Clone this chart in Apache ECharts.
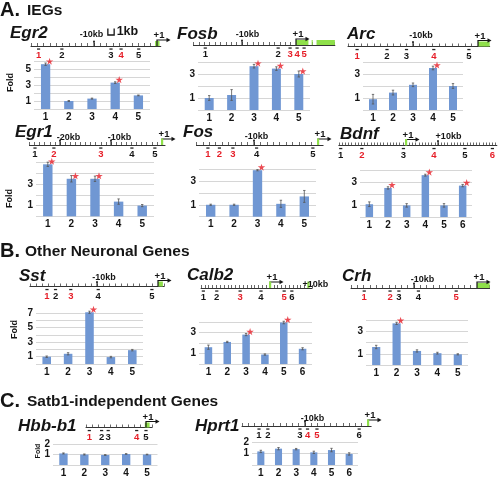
<!DOCTYPE html>
<html><head><meta charset="utf-8">
<script src="https://cdn.jsdelivr.net/npm/echarts@6/dist/echarts.min.js"></script>
<style>html,body{margin:0;padding:0;background:#fff}#c{width:500px;height:478px}</style>
</head><body><div id="c"></div>
<script>
// ---------------- DATA ----------------
const geneNames = ['Egr2','Fosb','Arc','Egr1','Fos','Bdnf','Sst','Calb2','Crh','Hbb-b1','Hprt1'];
const sectionLetters = ['A.','B.','C.'];
const sectionTitles = ['IEGs','Other Neuronal Genes','Satb1-independent Genes'];
const foldAxisName = 'Fold';
const foldValues = [
  [5.6,1.0,1.3,3.3,1.7],
  [1.0,1.25,3.65,3.45,3.0],
  [0.9,1.45,2.1,3.5,2.0],
  [4.85,3.5,3.5,1.37,1.0],
  [1.0,1.0,3.9,1.08,1.7],
  [1.1,2.5,1.0,3.6,1.0,2.7],
  [1.0,1.4,7.1,0.95,1.9],
  [1.6,2.1,2.8,0.9,3.95,1.45],
  [1.6,3.7,1.25,1.05,0.95],
  [1.1,1.0,0.95,1.05,1.0],
  [1.18,1.42,1.38,1.1,1.3,0.96]
];
const foldErrors = [
  [0.15,0.06,0.06,0.1,0.05],
  [0.2,0.45,0.15,0.15,0.25],
  [0.4,0.2,0.15,0.15,0.2],
  [0.2,0.3,0.25,0.25,0.1],
  [0.05,0.05,0.05,0.3,0.5],
  [0.2,0.1,0.15,0.08,0.15,0.1],
  [0.1,0.15,0.15,0.1,0.1],
  [0.2,0.06,0.1,0.06,0.12,0.1],
  [0.15,0.1,0.1,0.08,0.05],
  [0.05,0.05,0.04,0.03,0.03],
  [0.1,0.1,0.06,0.1,0.15,0.1]
];
const significant = [
  [1,0,0,1,0],[0,0,1,1,1],[0,0,0,1,0],[1,1,1,0,0],[0,0,1,0,0],[0,1,0,1,0,1],
  [0,0,1,0,0],[0,0,1,0,1,0],[0,1,0,0,0],[0,0,0,0,0],[0,0,0,0,0,0]
];
// primer positions relative to TSS (kb)
const primerKb = [
  [-18.8,-15.1,-7.3,-5.7,-2.9],
  [-16.8,-3.3,-1.1,0.2,1.5],
  [-18.6,-14.0,-11.0,-6.8,-1.4],
  [-24.9,-21.2,-12.0,-5.9,-1.4],
  [-17.2,-15.4,-13.3,-9.6,-0.8],
  [-20.4,-13.8,-0.8,8.75,18.4,27.0],
  [-18.2,-16.8,-14.3,-9.8,-1.0],
  [-17.4,-13.9,-7.8,-2.35,3.7,5.7],
  [-17.9,-13.8,-12.4,-9.3,-3.3],
  [-9.45,-7.4,-6.3,-1.55,0.0],
  [-17.3,-15.9,-10.8,-9.6,-8.1,-1.4]
];
const primerRed = [
  [1,0,0,1,0],[0,0,1,1,1],[1,0,0,1,0],[0,1,1,0,0],[1,1,1,0,0],[0,1,0,1,0,1],
  [1,0,1,0,0],[0,0,1,0,1,0],[1,1,0,0,1],[1,0,0,1,0],[0,0,0,1,1,0]
];
// exons (kb start, kb end); equal values = thin mark
const exonKb = [
  [[-0.3,0.4]],
  [[0,2.3],[2.9,3.1],[3.8,7.2]],
  [[0,1.8]],
  [[0,0]],
  [[0,0]],
  [[0,0]],
  [[0,0.8]],
  [[0,0],[10,10]],
  [[0,2]],
  [[-0.2,0.6]],
  [[0,0]]
];
const landmarkKb = [
  [[-10,'-10kb']],[[-10,'-10kb']],[[-10,'-10kb']],[[-20,'-20kb'],[-10,'-10kb']],
  [[-10,'-10kb']],[[10,'+10kb']],[[-10,'-10kb']],[[10,'+10kb']],[[-10,'-10kb']],[],[[-10,'-10kb']]
];
const tssKb = 0;
const tssLabel = '+1';
const scaleBarKb = 1;
const scaleBarLabel = '1kb';

// ---------------- LAYOUT / STYLE ----------------
const FONT = '"Liberation Sans", Arial, sans-serif';
const INK = '#151515', RED = '#e61e28', BLUE = '#7097d3', GREEN = '#8fe04a';
const layout = [
  {bar:[34,61,116,48], ymax:6, yLabels:[1,3,5], track:{tss:157,ppk:6.3,kbMin:-20,kbMax:0.6,lineY:46}, title:[10,33], fold:[11,82.5,9], scaleAt:-7.8, lm:[-2.5,-11.5]},
  {bar:[198,62,112,48], ymax:4, yLabels:[1,3], track:{tss:296,ppk:5.4,kbMin:-19,kbMax:7.2,lineY:45}, title:[177,34], lm:[5.5,-10]},
  {bar:[363,62,100,48], ymax:4, yLabels:[1,3], track:{tss:478,ppk:6.5,kbMin:-20,kbMax:1.8,lineY:46.5}, title:[347,34], lm:[8,-11]},
  {bar:[36,162.7,118,53.6], ymax:5, yLabels:[1,3], track:{tss:162,ppk:5.1,kbMin:-26,kbMax:0.6,lineY:145}, title:[15,132.5], fold:[10,198.5,9], lm:[8.5,-7.5]},
  {bar:[199,169,117,47.7], ymax:4, yLabels:[1,3], track:{tss:318,ppk:6.4,kbMin:-19,kbMax:0.8,lineY:145}, title:[183,132.5], lm:[2.5,-8.5]},
  {bar:[360,170.5,112,46.5], ymax:4, yLabels:[1,3], track:{tss:406,ppk:3.2,kbMin:-21,kbMax:28.4,lineY:145.5}, title:[340,134], lm:[10.5,-8.5]},
  {bar:[36,313,107,51], ymax:7, yLabels:[1,3,5,7], track:{tss:158,ppk:6.1,kbMin:-21,kbMax:1,lineY:286.5}, title:[19,276], fold:[15,329.5,9], lm:[7,-9]},
  {bar:[199,322,113,42], ymax:4, yLabels:[1,3], track:{tss:270,ppk:3.83,kbMin:-18,kbMax:11,lineY:288}, title:[187,275], landmarkSide:true, lm:[7,-3]},
  {bar:[366,320,102,45], ymax:4, yLabels:[1,3], track:{tss:477,ppk:6.3,kbMin:-20,kbMax:2,lineY:288}, title:[342,276], lm:[8.5,-8.5]},
  {bar:[53,444,104.5,21.5], ymax:2, yLabels:[1,2], track:{tss:146,ppk:6,kbMin:-10,kbMax:1,lineY:427.5}, title:[18,426.5], fold:[38,451,7], lm:[0,-8]},
  {bar:[252,442,106,25], ymax:2, yLabels:[1,2], track:{tss:368,ppk:6.3,kbMin:-20,kbMax:0.5,lineY:426}, title:[195,426.5], lm:[7.5,-7.5]}
];
const sectionPos = [[0,10.5,27],[0,251,25],[0,401.5,27]];
const STAR = 'path://M50,0 L61,35 L98,35 L68,57 L79,91 L50,70 L21,91 L32,57 L2,35 L39,35 Z';

const chart = echarts.init(document.getElementById('c'), null, {renderer:'canvas'});
const option = {animation:false, grid:[], xAxis:[], yAxis:[], series:[], graphic:[]};
const G = option.graphic;

sectionLetters.forEach((s,k)=>{
  const p = sectionPos[k];
  G.push({type:'text', x:p[0], y:p[1], silent:true, style:{text:s, font:'bold 20px '+FONT, fill:INK, align:'left', verticalAlign:'middle'}});
  G.push({type:'text', x:p[2], y:p[1]+0.5, silent:true, style:{text:sectionTitles[k], font:'bold 15.5px '+FONT, fill:INK, align:'left', verticalAlign:'middle'}});
});

geneNames.forEach((name,i)=>{
  const L = layout[i];
  const bi = 2*i, ti = 2*i+1;
  const [bl,bt,bw,bh] = L.bar;
  G.push({type:'text', x:L.title[0], y:L.title[1], silent:true, style:{text:name, font:'italic bold 17px '+FONT, fill:INK, align:'left', verticalAlign:'middle'}});
  if (L.fold) G.push({type:'text', x:L.fold[0], y:L.fold[1], rotation:Math.PI/2, silent:true, style:{text:foldAxisName, font:'bold '+L.fold[2]+'px '+FONT, fill:INK, align:'center', verticalAlign:'middle'}});

  // bar grid
  option.grid.push({left:bl, top:bt, width:bw, height:bh});
  const cats = foldValues[i].map((_,j)=>String(j+1));
  option.xAxis.push({gridIndex:bi, type:'category', data:cats, axisLine:{show:false}, axisTick:{show:false},
    axisLabel:{interval:0, color:INK, fontSize:10, fontWeight:'bold', fontFamily:FONT, margin:3}});
  option.yAxis.push({gridIndex:bi, type:'value', min:0, max:L.ymax, interval:1, axisLine:{show:false}, axisTick:{show:false},
    splitLine:{lineStyle:{color:'#d6d6d6', width:1}},
    axisLabel:{formatter:v=>L.yLabels.indexOf(v)>=0?String(v):'', color:INK, fontSize:10, fontWeight:'bold', fontFamily:FONT, margin:3}});

  // track grid
  const T = L.track;
  const tl = T.tss + T.kbMin*T.ppk, tw = (T.kbMax-T.kbMin)*T.ppk;
  option.grid.push({left:tl, top:T.lineY-12, width:tw, height:12});
  const ticks=[]; for(let k=Math.ceil(T.kbMin); k<=Math.floor(T.kbMax); k++) ticks.push(k);
  option.xAxis.push({gridIndex:ti, type:'value', min:T.kbMin, max:T.kbMax, interval:1,
    axisLine:{show:true,onZero:false,lineStyle:{color:'#333',width:1}},
    axisTick:{show:true, inside:true, length:3, customValues:ticks, lineStyle:{color:'#444',width:0.8}},
    axisLabel:{show:false}, splitLine:{show:false}});
  option.yAxis.push({gridIndex:ti, type:'value', min:0, max:1, show:false});

  // bars
  option.series.push({type:'bar', xAxisIndex:bi, yAxisIndex:bi, data:foldValues[i], barWidth:'40%', clip:false, silent:true,
    itemStyle:{color:BLUE}});
  // error bars
  option.series.push({type:'custom', xAxisIndex:bi, yAxisIndex:bi, clip:false, silent:true, z:4,
    data:foldValues[i].map((v,j)=>[j, v, foldErrors[i][j]]),
    renderItem:(params,api)=>{
      const v=api.value(1), e=api.value(2);
      const a=api.coord([api.value(0), v+e]), b=api.coord([api.value(0), v-e]);
      return {type:'group', children:[
        {type:'line', shape:{x1:a[0],y1:a[1],x2:b[0],y2:b[1]}, style:{stroke:'#555',lineWidth:0.8}},
        {type:'line', shape:{x1:a[0]-1.2,y1:a[1],x2:a[0]+1.2,y2:a[1]}, style:{stroke:'#555',lineWidth:0.8}},
        {type:'line', shape:{x1:b[0]-1.2,y1:b[1],x2:b[0]+1.2,y2:b[1]}, style:{stroke:'#555',lineWidth:0.8}}
      ]};
    }});
  // stars
  const starData = []; significant[i].forEach((s,j)=>{ if(s) starData.push([j, foldValues[i][j]]); });
  option.series.push({type:'scatter', xAxisIndex:bi, yAxisIndex:bi, data:starData, symbol:STAR, symbolKeepAspect:true,
    symbolSize:7.5, symbolOffset:[4,-3], itemStyle:{color:RED}, silent:true, z:6, clip:false});

  // primers
  option.series.push({type:'custom', xAxisIndex:ti, yAxisIndex:ti, clip:false, silent:true, z:3,
    data:primerKb[i].map((kb,j)=>[kb, 0, primerRed[i][j], j+1]),
    renderItem:(params,api)=>{
      const p=api.coord([api.value(0),0]);
      return {type:'group', children:[
        {type:'rect', shape:{x:p[0]-1.6,y:p[1]+2.4,width:3.2,height:1.3}, style:{fill:'#222'}},
        {type:'text', x:p[0], y:p[1]+9.5, style:{text:String(api.value(3)), font:'bold 9.5px '+FONT,
          fill:api.value(2)?RED:INK, align:'center', verticalAlign:'middle'}}
      ]};
    }});
  // exon boxes
  const boxes = exonKb[i].filter(e=>e[1]-e[0]>0.01), marks = exonKb[i].filter(e=>e[1]-e[0]<=0.01);
  option.series.push({type:'custom', xAxisIndex:ti, yAxisIndex:ti, clip:false, silent:true, z:2,
    data:boxes.map(e=>[e[0],0,e[1]]),
    renderItem:(params,api)=>{
      const a=api.coord([api.value(0),0]), b=api.coord([api.value(2),0]);
      return {type:'rect', shape:{x:a[0], y:a[1]-5, width:b[0]-a[0], height:5}, style:{fill:GREEN}};
    }});
  // TSS arrow
  option.series.push({type:'custom', xAxisIndex:ti, yAxisIndex:ti, clip:false, silent:true, z:3,
    data:[[tssKb,0]],
    renderItem:(params,api)=>{
      const p=api.coord([api.value(0),0]); const x=p[0], y=p[1];
      return {type:'group', children:[
        {type:'polyline', shape:{points:[[x,y],[x,y-6],[x+10,y-6]]}, style:{stroke:INK,lineWidth:1.2,fill:null}},
        {type:'polygon', shape:{points:[[x+13.5,y-6],[x+9.5,y-8.3],[x+9.5,y-3.7]]}, style:{fill:INK}},
        {type:'text', x:x+2, y:y-10.5, style:{text:tssLabel, font:'bold 9.5px '+FONT, fill:INK, align:'center', verticalAlign:'middle'}}
      ]};
    }});
  // thin exon marks
  option.series.push({type:'custom', xAxisIndex:ti, yAxisIndex:ti, clip:false, silent:true, z:4,
    data:marks.map(e=>[e[0],0]),
    renderItem:(params,api)=>{
      const p=api.coord([api.value(0),0]);
      return {type:'rect', shape:{x:p[0]-1, y:p[1]-6.5, width:2.2, height:6.5}, style:{fill:GREEN}};
    }});
  // landmarks
  option.series.push({type:'custom', xAxisIndex:ti, yAxisIndex:ti, clip:false, silent:true, z:5,
    data:landmarkKb[i].map(l=>[l[0],0]),
    renderItem:(params,api)=>{
      const p=api.coord([api.value(0),0]);
      const lab = landmarkKb[i][params.dataIndex][1];
      const txt = {type:'text', x:p[0]+L.lm[0], y:p[1]+L.lm[1], style:{text:lab, font:'bold 9px '+FONT, fill:INK, align:'center', verticalAlign:'middle'}};
      if (L.landmarkSide) return txt;
      return {type:'group', children:[
        {type:'line', shape:{x1:p[0],y1:p[1],x2:p[0],y2:p[1]-4.5}, style:{stroke:INK,lineWidth:1}},
        {type:'circle', shape:{cx:p[0],cy:p[1]-4.5,r:0.9}, style:{fill:INK}},
        txt
      ]};
    }});
  // scale bar
  if (L.scaleAt !== undefined) {
    option.series.push({type:'custom', xAxisIndex:ti, yAxisIndex:ti, clip:false, silent:true, z:5,
      data:[[L.scaleAt,0,L.scaleAt+scaleBarKb]],
      renderItem:(params,api)=>{
        const a=api.coord([api.value(0),0]), b=api.coord([api.value(2),0]); const y=a[1];
        return {type:'group', children:[
          {type:'polyline', shape:{points:[[a[0],y-17.5],[a[0],y-11],[b[0],y-11],[b[0],y-17.5]]}, style:{stroke:INK,lineWidth:1.3,fill:null}},
          {type:'text', x:b[0]+2.5, y:y-14.5, style:{text:scaleBarLabel, font:'bold 12.5px '+FONT, fill:INK, align:'left', verticalAlign:'middle'}}
        ]};
      }});
  }
});

chart.setOption(option);
</script></body></html>
